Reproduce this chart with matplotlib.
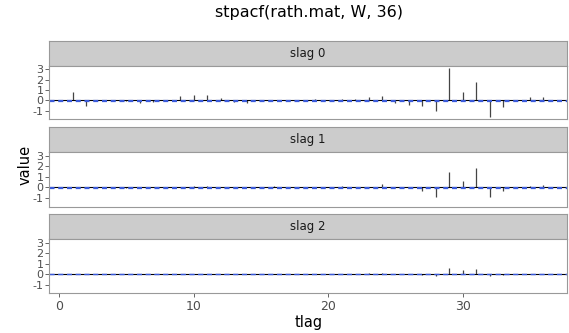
import numpy as np
import matplotlib
matplotlib.use("Agg")
import matplotlib.pyplot as plt

tlag = np.arange(1, 37)
slag_labels = ["slag 0", "slag 1", "slag 2"]

slag0 = [0.85, -0.55, 0.05, -0.05, -0.1, -0.3, -0.2, 0.05, 0.4, 0.5,
         0.5, 0.2, -0.2, -0.25, -0.1, 0.05, -0.05, 0.05, 0.1, 0.05,
         0.15, 0.15, 0.3, 0.4, -0.3, -0.4, -0.55, -1.0, 3.1, 0.85,
         1.75, -1.6, -0.6, -0.1, 0.3, 0.3]
slag1 = [0.05, -0.1, 0.05, 0.05, -0.1, 0.05, 0.05, -0.05, 0.05, 0.1,
         0.1, 0.05, -0.05, 0.05, 0.05, 0.1, 0.05, 0.05, 0.05, 0.05,
         0.1, 0.05, 0.05, 0.3, 0.05, -0.1, -0.3, -0.9, 1.5, 0.65,
         1.8, -0.9, -0.35, 0.05, 0.15, 0.25]
slag2 = [0.02, -0.02, 0.05, 0.02, -0.02, 0.02, 0.02, -0.02, 0.02, 0.05,
         0.02, 0.02, -0.02, 0.05, 0.02, 0.02, 0.02, 0.02, 0.02, 0.02,
         0.02, 0.02, 0.1, 0.1, 0.02, -0.02, -0.05, -0.2, 0.55, 0.35,
         0.45, -0.15, -0.05, 0.02, 0.05, 0.05]
values = [slag0, slag1, slag2]
bound = 0.03  # blue dashed significance bounds (very close to 0)

W, H = 569, 333
fig = plt.figure(figsize=(W / 100, H / 100), dpi=100)

allv = np.concatenate(values)
ymin, ymax = allv.min(), allv.max()
pad = 0.05 * (ymax - ymin)
xpad = 0.05 * (tlag.max() - tlag.min())

left, right = 49, 567
strips = [(40.7, 66), (126.7, 152.3), (214.3, 239)]
panels = [(66, 119.3), (152.3, 206.7), (239, 293.3)]
border = "#999999"

for i in range(3):
    st, sb = strips[i]
    sax = fig.add_axes([left / W, 1 - sb / H, (right - left) / W, (sb - st) / H])
    sax.set_facecolor("#cccccc")
    sax.set_xticks([])
    sax.set_yticks([])
    for s in sax.spines.values():
        s.set_color(border)
    sax.text(0.5, 0.5, slag_labels[i], ha="center", va="center", fontsize=8.5,
             color="#1a1a1a", transform=sax.transAxes)

    pt, pb = panels[i]
    ax = fig.add_axes([left / W, 1 - pb / H, (right - left) / W, (pb - pt) / H])
    ax.vlines(tlag, 0, values[i], color="#444444", linewidth=0.9)
    ax.axhline(0, color="black", linewidth=0.8)
    ax.axhline(bound, color="#3b5bdb", linewidth=0.9, linestyle=(0, (4, 3)))
    ax.axhline(-bound, color="#3b5bdb", linewidth=0.9, linestyle=(0, (4, 3)))
    ax.set_xlim(tlag.min() - xpad, tlag.max() + xpad)
    ax.set_ylim(ymin - pad, ymax + pad)
    ax.set_yticks([-1, 0, 1, 2, 3])
    ax.set_yticklabels(["-1", "0", "1", "2", "3"])
    ax.tick_params(axis="y", length=3, width=0.6, color="#4d4d4d", pad=1,
                   labelsize=8, labelcolor="#4d4d4d")
    for s in ax.spines.values():
        s.set_color(border)
    if i < 2:
        ax.set_xticks([])
    else:
        ax.set_xticks([0, 10, 20, 30])
        ax.tick_params(axis="x", length=3, width=0.6, color="#4d4d4d",
                       labelsize=9, labelcolor="#4d4d4d", pad=2)

fig.text(309 / W, 1 - 12 / H, "stpacf(rath.mat, W, 36)", ha="center",
         va="center", fontsize=11.5)
fig.text(309 / W, 1 - 322 / H, "tlag", ha="center", va="center", fontsize=10.5)
fig.text(25 / W, 1 - 165 / H, "value", ha="center", va="center",
         fontsize=10.5, rotation=90)

fig.savefig("out.png", dpi=100)
